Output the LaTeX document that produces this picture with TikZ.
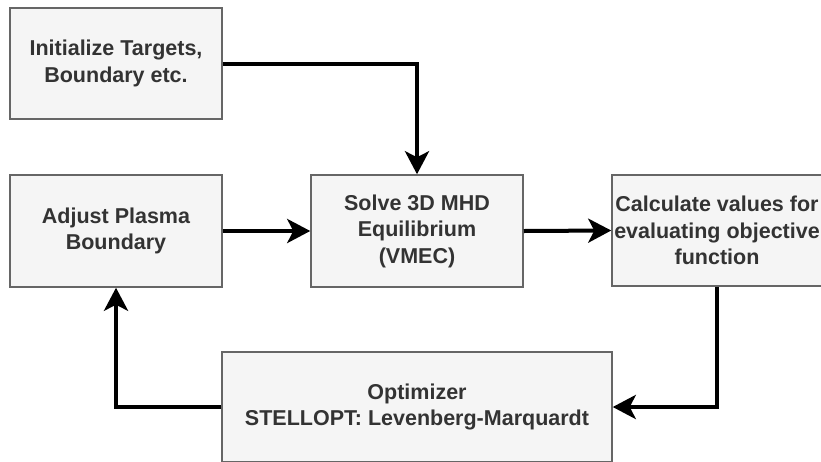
\documentclass[tikz,border=0pt]{standalone}
\usepackage{fontspec}
\setmainfont{Liberation Sans}
\usetikzlibrary{arrows.meta}
\definecolor{boxfill}{HTML}{F5F5F5}
\definecolor{boxline}{HTML}{666666}
\definecolor{boxtext}{HTML}{333333}
\begin{document}
\begin{tikzpicture}[x=1pt,y=-1pt,
  box/.style={draw=boxline, fill=boxfill, line width=1.5pt, rectangle, inner sep=0pt,
    align=center, text=boxtext, font=\fontsize{21.5}{26.5}\selectfont\bfseries},
  flow/.style={line width=4pt, draw=black, -{Stealth[length=23pt,width=24pt,inset=6pt]}}]
\useasboundingbox (0,0) rectangle (821,461);
\node[box, minimum width=212pt, minimum height=111pt] (init) at (116,63.5) {Initialize Targets,\\Boundary etc.};
\node[box, minimum width=212pt, minimum height=112pt] (adjust) at (116,231) {Adjust Plasma\\Boundary};
\node[box, minimum width=212pt, minimum height=112pt] (solve) at (417,231) {Solve 3D MHD\\Equilibrium\\(VMEC)};
\node[box, minimum width=210pt, minimum height=111pt] (calc) at (717,230.5) {Calculate values for\\evaluating objective\\function};
\node[box, minimum width=390pt, minimum height=110pt] (opt) at (417,407) {Optimizer\\STELLOPT: Levenberg-Marquardt};
\draw[flow] (init.east) -| (solve.north);
\draw[flow] (adjust.east) -- (solve.west);
\draw[flow] (solve.east) -- (calc.west);
\draw[flow] (calc.south) |- (opt.east);
\draw[flow] (opt.west) -| (adjust.south);
\end{tikzpicture}
\end{document}
